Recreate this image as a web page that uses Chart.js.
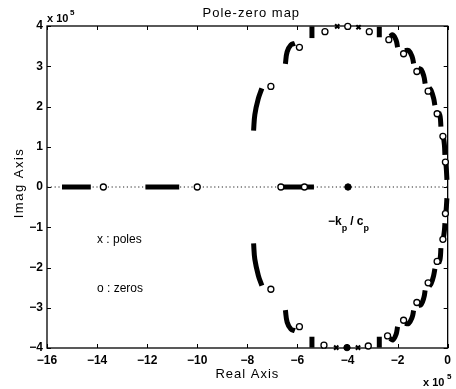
<!DOCTYPE html>
<html>
<head>
<meta charset="utf-8">
<script src="https://cdn.jsdelivr.net/npm/chart.js@4.4.1/dist/chart.umd.min.js"></script>
<style>
  html, body { margin: 0; padding: 0; background: #fff; }
  #wrap { width: 456px; height: 389px; position: relative; }
</style>
</head>
<body>
<div id="wrap"><canvas id="pz"></canvas></div>
<script>
// ============ DATA (units of 1e5) ============

const xRange = [-16, 0];
const yRange = [-4, 4];
const xStep = 2;
const yStep = 1;

// dense pole clusters read as strokes
const polesRealAxis = [
  [[-15.4, 0], [-14.25, 0]],
  [[-12.07, 0], [-10.72, 0]],
  [[-6.6, 0], [-5.8, 0]],
  [[-5.65, 0], [-5.34, 0]]
];

const polesUpper = [
  [[-7.75, 1.4], [-7.7, 1.8], [-7.56, 2.2], [-7.42, 2.45]],
  [[-6.48, 3.06], [-6.41, 3.36], [-6.26, 3.53], [-6.1, 3.57]],
  [[-5.42, 3.99], [-5.42, 3.7]],
  [[-2.73, 3.98], [-2.73, 3.72]],
  [[-2.31, 3.74], [-2.19, 3.78], [-2.06, 3.65], [-2.0, 3.47]],
  [[-1.72, 3.39], [-1.56, 3.39], [-1.42, 3.24], [-1.36, 3.07]],
  [[-1.17, 2.95], [-1.06, 2.92], [-0.95, 2.75], [-0.9, 2.57]],
  [[-0.74, 2.47], [-0.66, 2.4], [-0.56, 2.2], [-0.51, 2.03]],
  [[-0.36, 1.86], [-0.3, 1.75], [-0.27, 1.5]],
  [[-0.18, 1.3], [-0.13, 1.05], [-0.11, 0.8]],
  [[-0.08, 0.66], [-0.05, 0.42], [-0.03, 0.18]]
];

const polesLower = [
  [[-7.75, -1.4], [-7.7, -1.8], [-7.56, -2.2], [-7.42, -2.45]],
  [[-6.48, -3.06], [-6.41, -3.36], [-6.26, -3.53], [-6.1, -3.57]],
  [[-5.42, -3.99], [-5.42, -3.72]],
  [[-2.73, -3.99], [-2.73, -3.72]],
  [[-2.31, -3.76], [-2.19, -3.8], [-2.06, -3.66], [-2.0, -3.47]],
  [[-1.72, -3.39], [-1.56, -3.39], [-1.42, -3.24], [-1.36, -3.07]],
  [[-1.17, -2.95], [-1.06, -2.92], [-0.95, -2.75], [-0.9, -2.57]],
  [[-0.74, -2.47], [-0.66, -2.4], [-0.56, -2.2], [-0.51, -2.03]],
  [[-0.36, -1.9], [-0.3, -1.78], [-0.27, -1.52]],
  [[-0.18, -1.32], [-0.13, -1.08], [-0.11, -0.9]],
  [[-0.08, -0.7], [-0.05, -0.48], [-0.03, -0.28]]
];

const poleCrosses = [[-4.41, 3.99], [-3.56, 3.97], [-4.45, -3.99], [-3.58, -3.99]];

const zerosReal = [[-13.75, 0], [-10.0, 0], [-6.66, 0], [-5.72, 0]];
const zerosUpper = [
  [-7.06, 2.5], [-5.92, 3.47], [-4.9, 3.86], [-3.99, 3.99], [-3.13, 3.86],
  [-2.35, 3.66], [-1.76, 3.31], [-1.23, 2.87], [-0.78, 2.38], [-0.42, 1.82],
  [-0.19, 1.26], [-0.09, 0.62]
];
const zerosLower = [
  [-7.06, -2.54], [-5.92, -3.47], [-4.94, -3.93], [-3.17, -3.95],
  [-2.4, -3.7], [-1.76, -3.31], [-1.23, -2.87], [-0.78, -2.38], [-0.42, -1.85],
  [-0.19, -1.3], [-0.09, -0.66]
];

const filledDots = [[-3.98, 0], [-4.02, -3.99]];  // -kp/cp and the bottom one

// ============ BUILD DATASETS ============

const toXY = (arr) => arr.map((p) => ({ x: p[0], y: p[1] }));

const datasets = [];

// zeros on top of everything
datasets.push({
  data: toXY([...zerosReal, ...zerosUpper, ...zerosLower]),
  pointStyle: "circle",
  pointRadius: 3,
  pointBorderWidth: 1.3,
  pointBorderColor: "#000",
  pointBackgroundColor: "#fff",
  showLine: false,
  order: 0,
  clip: false
});

datasets.push({
  data: toXY(filledDots),
  pointStyle: "circle",
  pointRadius: 3.2,
  pointBorderWidth: 1,
  pointBorderColor: "#000",
  pointBackgroundColor: "#000",
  showLine: false,
  order: 0,
  clip: false
});

datasets.push({
  data: toXY(poleCrosses),
  pointStyle: "crossRot",
  pointRadius: 3,
  pointBorderWidth: 2,
  pointBorderColor: "#000",
  showLine: false,
  order: 1,
  clip: false
});

polesRealAxis.forEach((seg) => {
  datasets.push({
    data: toXY(seg),
    showLine: true,
    borderColor: "#000",
    borderWidth: 5,
    borderCapStyle: "butt",
    pointRadius: 0,
    order: 1,
    clip: false
  });
});

[...polesUpper, ...polesLower].forEach((seg) => {
  datasets.push({
    data: toXY(seg),
    showLine: true,
    borderColor: "#000",
    borderWidth: 5,
    borderCapStyle: "butt",
    borderJoinStyle: "round",
    tension: 0.4,
    pointRadius: 0,
    order: 1,
    clip: false
  });
});

// dotted real axis
datasets.push({
  data: toXY([[xRange[0], 0], [xRange[1], 0]]),
  showLine: true,
  borderColor: "#222",
  borderWidth: 1,
  borderDash: [1.2, 2.6],
  pointRadius: 0,
  order: 5
});

// ============ PLUGINS ============

const minus = (v) => String(v).replace("-", "\u2212");

const framePlugin = {
  id: "frame",
  beforeDatasetsDraw(chart) {
    const { ctx, chartArea: a, scales } = chart;
    ctx.save();
    ctx.strokeStyle = "#000";
    ctx.lineWidth = 1.3;
    ctx.strokeRect(a.left, a.top, a.right - a.left, a.bottom - a.top);
    ctx.lineWidth = 1;
    const tl = 4;
    ctx.beginPath();
    for (let v = xRange[0]; v <= xRange[1]; v += xStep) {
      const px = Math.round(scales.x.getPixelForValue(v)) + 0.5;
      ctx.moveTo(px, a.bottom); ctx.lineTo(px, a.bottom - tl);
      ctx.moveTo(px, a.top); ctx.lineTo(px, a.top + tl);
    }
    for (let v = yRange[0]; v <= yRange[1]; v += yStep) {
      const py = Math.round(scales.y.getPixelForValue(v)) + 0.5;
      ctx.moveTo(a.left, py); ctx.lineTo(a.left + tl, py);
      ctx.moveTo(a.right, py); ctx.lineTo(a.right - tl, py);
    }
    ctx.stroke();
    ctx.restore();
  },
  afterDraw(chart) {
    const { ctx, chartArea: a } = chart;
    const cx = (a.left + a.right) / 2;
    ctx.save();
    ctx.fillStyle = "#000";
    ctx.textBaseline = "alphabetic";
    const fam = "'Liberation Sans', Arial, sans-serif";

    ctx.textAlign = "center";
    ctx.font = "13px " + fam;
    if ("letterSpacing" in ctx) ctx.letterSpacing = "1px";
    ctx.fillText("Pole-zero map", cx + 4, 17);
    ctx.fillText("Real Axis", cx, 378);
    if ("letterSpacing" in ctx) ctx.letterSpacing = "0px";

    // exponent labels
    ctx.textAlign = "left";
    ctx.font = "bold 11px " + fam;
    ctx.fillText("x 10", 47, 22);
    ctx.fillText("x 10", 423, 386);
    ctx.font = "bold 8px " + fam;
    ctx.fillText("5", 70, 15);
    ctx.fillText("5", 447, 379);

    // y axis title
    ctx.save();
    ctx.translate(23, 183);
    ctx.rotate(-Math.PI / 2);
    ctx.textAlign = "center";
    ctx.font = "13px " + fam;
    if ("letterSpacing" in ctx) ctx.letterSpacing = "1.5px";
    ctx.fillText("Imag Axis", 0, 0);
    ctx.restore();

    // annotations
    ctx.textAlign = "left";
    ctx.font = "12px " + fam;
    ctx.fillText("x : poles", 97, 243);
    ctx.fillText("o : zeros", 97, 292);

    let x0 = 328;
    ctx.font = "bold 12px " + fam;
    ctx.fillText("\u2212k", x0, 225);
    x0 += ctx.measureText("\u2212k").width;
    ctx.font = "bold 9px " + fam;
    ctx.fillText("p", x0, 231);
    x0 += ctx.measureText("p").width + 3;
    ctx.font = "bold 12px " + fam;
    ctx.fillText("/ c", x0, 225);
    x0 += ctx.measureText("/ c").width;
    ctx.font = "bold 9px " + fam;
    ctx.fillText("p", x0, 231);
    ctx.restore();
  }
};

// ============ CHART ============

new Chart(document.getElementById("pz"), {
  type: "scatter",
  data: { datasets },
  options: {
    responsive: true,
    maintainAspectRatio: false,
    animation: false,
    layout: { padding: { left: 0, right: 2, top: 26, bottom: 0 } },
    plugins: { legend: { display: false }, tooltip: { enabled: false } },
    scales: {
      x: {
        type: "linear",
        min: xRange[0],
        max: xRange[1],
        grid: { display: false, drawTicks: false },
        border: { display: false },
        afterFit: (s) => { s.height = 41; },
        ticks: {
          stepSize: xStep,
          autoSkip: false,
          maxRotation: 0,
          padding: 5,
          color: "#000",
          font: { family: "'Liberation Sans', Arial, sans-serif", size: 12, weight: "bold" },
          callback: (v) => minus(v)
        }
      },
      y: {
        type: "linear",
        min: yRange[0],
        max: yRange[1],
        grid: { display: false, drawTicks: false },
        border: { display: false },
        afterFit: (s) => { s.width = 47; },
        ticks: {
          stepSize: yStep,
          padding: 4,
          color: "#000",
          font: { family: "'Liberation Sans', Arial, sans-serif", size: 12, weight: "bold" },
          callback: (v) => minus(v)
        }
      }
    }
  },
  plugins: [framePlugin]
});
</script>
</body>
</html>
